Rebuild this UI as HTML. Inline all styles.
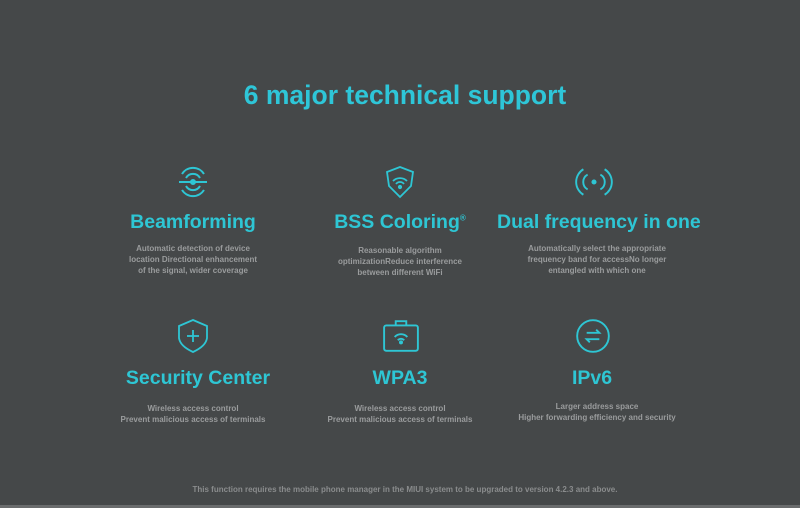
<!DOCTYPE html>
<html><head><style>
body{margin:0;width:800px;height:508px;background:#454849;position:relative;overflow:hidden;font-family:"Liberation Sans",sans-serif}
.t{position:absolute;text-align:center;white-space:nowrap}
.h{color:#2ec6d4;font-weight:bold;font-size:19.5px}
.d{color:#9a9c9d;font-size:8px;font-weight:bold;line-height:11px}
svg{position:absolute}
</style></head><body>
<div class="t" style="left:0;width:810px;top:80px;color:#2ec6d8;font-size:26.5px;font-weight:bold">6 major technical support</div>

<svg style="left:175px;top:163px" width="36" height="38" viewBox="0 0 36 38" fill="none" stroke="#2ec6d4" stroke-width="2">
<path d="M7 11 A13 13 0 0 1 29 11"/><path d="M11 15 A8 8 0 0 1 25 15"/><path d="M7 27 A13 13 0 0 0 29 27"/><path d="M11 23 A8 8 0 0 0 25 23"/><line x1="4" y1="19" x2="32" y2="19"/><circle cx="18" cy="19" r="2" fill="#2ec6d4"/></svg>
<svg style="left:383px;top:164px" width="34" height="36" viewBox="0 0 32 36" fill="none" stroke="#2ec6d4" stroke-width="1.8">
<path d="M3 8 L16 3 L29 8 L27 22 L16 33 L5 22 Z"/><path d="M9 17 A10 10 0 0 1 23 17"/><path d="M12 20 A5 5 0 0 1 20 20"/><circle cx="16" cy="23" r="1.2" fill="#2ec6d4"/></svg>
<svg style="left:574px;top:165px" width="40" height="34" viewBox="0 0 36 32" fill="none" stroke="#2ec6d4" stroke-width="1.8">
<path d="M8 4 A14 14 0 0 0 8 28"/><path d="M12 9 A8 8 0 0 0 12 23"/><path d="M28 4 A14 14 0 0 1 28 28"/><path d="M24 9 A8 8 0 0 1 24 23"/><circle cx="18" cy="16" r="1.5" fill="#2ec6d4"/></svg>

<div class="t h" style="left:93px;width:200px;top:211px">Beamforming</div>
<div class="t h" style="left:300px;width:200px;top:211px">BSS Coloring<sup style="font-size:8px">®</sup></div>
<div class="t h" style="left:497px;width:200px;top:211px">Dual frequency in one</div>

<div class="t d" style="left:93px;width:200px;top:243px">Automatic detection of device<br>location Directional enhancement<br>of the signal, wider coverage</div>
<div class="t d" style="left:300px;width:200px;top:245px">Reasonable algorithm<br>optimizationReduce interference<br>between different WiFi</div>
<div class="t d" style="left:497px;width:200px;top:243px">Automatically select the appropriate<br>frequency band for accessNo longer<br>entangled with which one</div>

<svg style="left:176px;top:318px" width="34" height="36" viewBox="0 0 34 36" fill="none" stroke="#2ec6d4" stroke-width="1.8">
<path d="M17 2 L31 8 L31 20 Q30 28 17 34 Q4 28 3 20 L3 8 Z"/><line x1="17" y1="12" x2="17" y2="24"/><line x1="11" y1="18" x2="23" y2="18"/></svg>
<svg style="left:382px;top:318px" width="38" height="36" viewBox="0 0 36 34" fill="none" stroke="#2ec6d4" stroke-width="1.8">
<rect x="2" y="7" width="32" height="24" rx="2"/><path d="M13 7 V3 H23 V7"/><path d="M12 18 A8 8 0 0 1 24 18"/><path d="M15 21 A4 4 0 0 1 21 21"/><circle cx="18" cy="23" r="1" fill="#2ec6d4"/></svg>
<svg style="left:574px;top:317px" width="38" height="38" viewBox="0 0 36 36" fill="none" stroke="#2ec6d4" stroke-width="1.8">
<circle cx="18" cy="18" r="15"/><path d="M12 15 H24 L21 12"/><path d="M24 21 H12 L15 24"/></svg>

<div class="t h" style="left:98px;width:200px;top:367px">Security Center</div>
<div class="t h" style="left:300px;width:200px;top:367px">WPA3</div>
<div class="t h" style="left:492px;width:200px;top:367px">IPv6</div>

<div class="t d" style="left:93px;width:200px;top:403px">Wireless access control<br>Prevent malicious access of terminals</div>
<div class="t d" style="left:300px;width:200px;top:403px">Wireless access control<br>Prevent malicious access of terminals</div>
<div class="t d" style="left:497px;width:200px;top:401px">Larger address space<br>Higher forwarding efficiency and security</div>

<div class="t d" style="left:0;width:810px;top:484px;color:#8a8c8d">This function requires the mobile phone manager in the MIUI system to be upgraded to version 4.2.3 and above.</div>
<div style="position:absolute;left:0;top:505px;width:800px;height:3px;background:#6a6c6d"></div>
</body></html>
